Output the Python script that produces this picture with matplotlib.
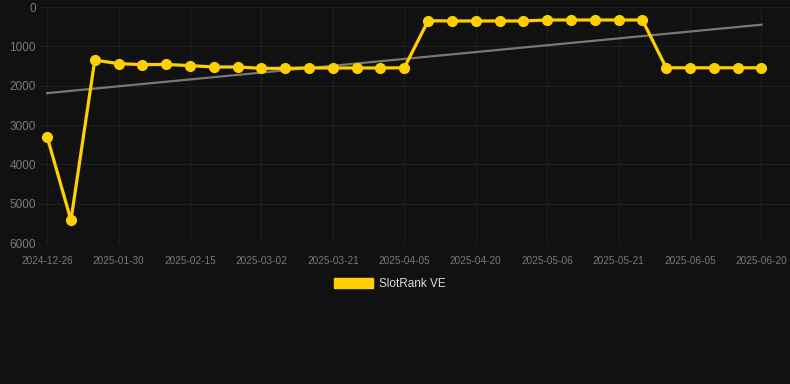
import numpy as np
import matplotlib
matplotlib.use("Agg")
import matplotlib.pyplot as plt
from matplotlib.patches import Patch

plt.rcParams['font.family'] = ['Liberation Sans', 'DejaVu Sans']

# dates of each sample (category axis, every 3rd label shown)
dates = ["2024-12-26", "2025-01-02", "2025-01-18", "2025-01-30", "2025-02-04", "2025-02-10",
         "2025-02-15", "2025-02-20", "2025-02-25", "2025-03-02", "2025-03-09", "2025-03-15",
         "2025-03-21", "2025-03-26", "2025-03-31", "2025-04-05", "2025-04-10", "2025-04-15",
         "2025-04-20", "2025-04-25", "2025-05-01", "2025-05-06", "2025-05-11", "2025-05-16",
         "2025-05-21", "2025-05-26", "2025-05-31", "2025-06-05", "2025-06-10", "2025-06-15",
         "2025-06-20"]
rank = [3300, 5420, 1350, 1440, 1465, 1460, 1490, 1525, 1525, 1560, 1560, 1550,
        1550, 1550, 1550, 1545, 350, 355, 355, 355, 355, 330, 330, 330,
        330, 330, 1545, 1545, 1545, 1545, 1545]
trend_ends = [2190, 450]
series_name = "SlotRank VE"

bg = "#111111"
gold = "#FFD000"

fig = plt.figure(figsize=(7.9, 3.84), dpi=100, facecolor=bg)
ax = fig.add_axes([40/790, 141/384, 750/790, 236/384])
ax.set_facecolor(bg)

x = np.arange(len(dates))
ax.plot([x[0], x[-1]], trend_ends, color="#777777", lw=1.6, zorder=2)
ax.plot(x, rank, color=gold, lw=2.3, marker="o", markersize=7, zorder=3)

ax.set_ylim(6000, 0)
ax.set_xlim(-0.3, len(dates) - 1 + 1.2)
ax.set_yticks([0, 1000, 2000, 3000, 4000, 5000, 6000])
ax.set_xticks(x[::3])
ax.set_xticklabels(dates[::3])

ax.grid(True, color="#1f1f1f", lw=0.8)
ax.set_axisbelow(True)
for s in ax.spines.values():
    s.set_visible(False)
ax.tick_params(axis="both", length=0, colors="#7a7a7a")
ax.tick_params(axis="y", labelsize=8.5, pad=3)
ax.tick_params(axis="x", labelsize=7.2, pad=9)

leg = fig.legend(handles=[Patch(color=gold, label=series_name)], loc="center",
                 bbox_to_anchor=(390/790, 1 - 284/384), frameon=False,
                 fontsize=8.5, handlelength=3.3, handleheight=1.0, handletextpad=0.5)
for t in leg.get_texts():
    t.set_color("#dddddd")

fig.savefig("out.png", dpi=100, facecolor=bg)
